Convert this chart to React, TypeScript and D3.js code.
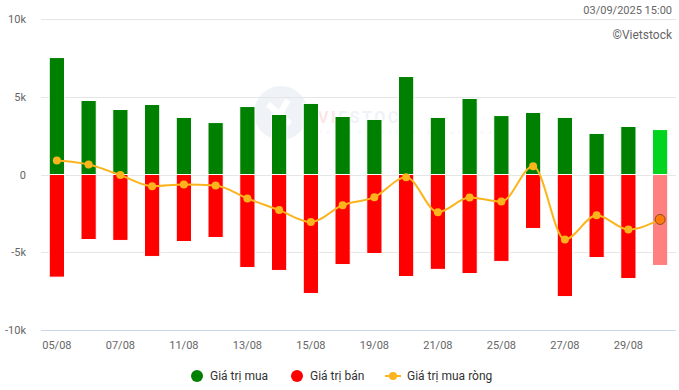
import React from "react";
import * as d3 from "d3";

const dates = [
  "05/08", "06/08", "07/08", "08/08", "11/08", "12/08", "13/08", "14/08", "15/08", "18/08",
  "19/08", "20/08", "21/08", "22/08", "25/08", "26/08", "27/08", "28/08", "29/08", "03/09",
];
const buyValues = [
  7520, 4760, 4180, 4500, 3670, 3340, 4370, 3860, 4570, 3730,
  3540, 6300, 3670, 4890, 3790, 3990, 3670, 2640, 3090, 2890,
];
const sellValues = [
  -6600, -4180, -4240, -5270, -4310, -4050, -5980, -6170, -7650, -5790,
  -5080, -6560, -6100, -6370, -5590, -3470, -7850, -5340, -6690, -5850,
];
const netValues = [
  900, 640, -40, -750, -640, -710, -1540, -2290, -3060, -1970,
  -1460, -170, -2420, -1480, -1740, 530, -4180, -2620, -3540, -2890,
];
const yTicks = [-10000, -5000, 0, 5000, 10000];

const W = 679;
const H = 390;
const FONT = "Roboto, 'Noto Sans', sans-serif";

export default function App() {
  const margin = { left: 41, right: 3, top: 19, bottom: 60 };
  const x = d3
    .scaleBand<string>()
    .domain(dates)
    .range([margin.left, W - margin.right])
    .paddingInner(0.52)
    .paddingOuter(0.26);
  const y = d3.scaleLinear().domain([-10000, 10000]).range([H - margin.bottom, margin.top]);
  const bw = x.bandwidth();
  const cx = (d: string) => (x(d) ?? 0) + bw / 2;
  const last = dates.length - 1;

  const line = d3
    .line<number>()
    .x((_, i) => cx(dates[i]))
    .y((d) => y(d))
    .curve(d3.curveMonotoneX);

  const fmt = (v: number) => (v === 0 ? "0" : `${v / 1000}k`);

  return (
    <svg width={W} height={H} style={{ position: "absolute", left: 0, top: 0, fontFamily: FONT }}>
      <rect width={W} height={H} fill="#fff" />
      {/* gridlines */}
      {yTicks.map((t) => (
        <line
          key={t}
          x1={margin.left}
          x2={W - margin.right}
          y1={Math.round(y(t)) + 0.5}
          y2={Math.round(y(t)) + 0.5}
          stroke={t === -10000 ? "#ccd6eb" : "#e6e6e6"}
          strokeWidth={1}
        />
      ))}
      {/* watermark */}
      <g opacity={0.45}>
        <circle cx={281} cy={113} r={27} fill="#dce6f1" />
        <path d="M268 104 L290 124 M288 100 L274 124" stroke="#fff" strokeWidth={6} fill="none" />
        <text x={318} y={123} fontSize={16} fontWeight="bold" fill="#dce6f1" letterSpacing={2.5}>
          <tspan fill="#f6c9cc">VI</tspan>ESTOCK
        </text>
        <text x={320} y={134} fontSize={6} fill="#dce6f1" letterSpacing={5}>
          leading stock solutions
        </text>
      </g>
      {/* y labels */}
      {yTicks.map((t) => (
        <text key={t} x={26} y={y(t) + 4} fontSize={11} fill="#666" textAnchor="end">
          {fmt(t)}
        </text>
      ))}
      {/* bars */}
      {dates.map((d, i) => (
        <g key={d}>
          <rect
            x={x(d)}
            y={y(buyValues[i])}
            width={bw}
            height={y(0) - y(buyValues[i])}
            fill={i === last ? "#00d41f" : "#008000"}
            stroke="#fff"
            strokeWidth={1}
          />
          <rect
            x={x(d)}
            y={y(0)}
            width={bw}
            height={y(sellValues[i]) - y(0)}
            fill={i === last ? "#ff8080" : "#ff0000"}
            stroke="#fff"
            strokeWidth={1}
          />
        </g>
      ))}
      {/* net line */}
      <path d={line(netValues) ?? ""} fill="none" stroke="#fbb41c" strokeWidth={2} />
      {netValues.map((v, i) =>
        i === last ? (
          <circle key={i} cx={cx(dates[i])} cy={y(v)} r={5} fill="#ff7a0a" stroke="#8b4a1a" strokeWidth={1} />
        ) : (
          <circle key={i} cx={cx(dates[i])} cy={y(v)} r={4} fill="#fbb41c" />
        )
      )}
      {/* x labels */}
      {dates.map((d, i) =>
        i % 2 === 0 ? (
          <text key={d} x={cx(d)} y={349} fontSize={11} fill="#666" textAnchor="middle">
            {d}
          </text>
        ) : null
      )}
      {/* header texts */}
      <text x={672} y={14} fontSize={11} fill="#666" textAnchor="end">
        03/09/2025 15:00
      </text>
      <text x={672} y={39} fontSize={12} fill="#666" textAnchor="end">
        ©Vietstock
      </text>
      {/* legend */}
      <g fontSize={12} fill="#333">
        <circle cx={197} cy={376} r={6} fill="#008000" />
        <text x={210} y={380}>Giá trị mua</text>
        <circle cx={297} cy={376} r={6} fill="#ff0000" />
        <text x={310} y={380}>Giá trị bán</text>
        <line x1={385} x2={401} y1={376} y2={376} stroke="#fbb41c" strokeWidth={2} />
        <circle cx={393} cy={376} r={4} fill="#fbb41c" />
        <text x={407} y={380}>Giá trị mua ròng</text>
      </g>
    </svg>
  );
}
